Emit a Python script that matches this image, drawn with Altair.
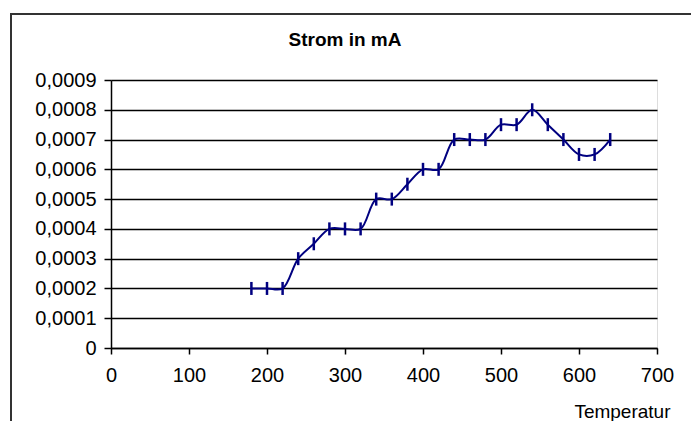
import altair as alt
import pandas as pd

temperatur = [180, 200, 220, 240, 260, 280, 300, 320, 340, 360, 380, 400,
              420, 440, 460, 480, 500, 520, 540, 560, 580, 600, 620, 640]
strom = [0.0002, 0.0002, 0.0002, 0.0003, 0.00035, 0.0004, 0.0004, 0.0004,
         0.0005, 0.0005, 0.00055, 0.0006, 0.0006, 0.0007, 0.0007, 0.0007,
         0.00075, 0.00075, 0.0008, 0.00075, 0.0007, 0.00065, 0.00065, 0.0007]
x_ticks = [0, 100, 200, 300, 400, 500, 600, 700]
y_ticks = [0, 0.0001, 0.0002, 0.0003, 0.0004, 0.0005, 0.0006, 0.0007, 0.0008, 0.0009]
chart_title = "Strom in mA"
x_title = "Temperatur"

df = pd.DataFrame({"Temperatur": temperatur, "Strom": strom})

FONT = "Liberation Sans"
NAVY = "#000080"
FS = 20

x_enc = alt.X(
    "Temperatur:Q",
    scale=alt.Scale(domain=[0, 700], nice=False),
    axis=alt.Axis(
        values=x_ticks, grid=False, title=x_title,
        labelFont=FONT, labelFontSize=FS, labelColor="#000", labelPadding=11,
        labelOverlap=False, labelFlush=False,
        tickSize=6, tickColor="#000", tickWidth=1.5, domainColor="#000", domainWidth=1.5,
        titleFont=FONT, titleFontSize=19, titleFontWeight="normal", titleColor="#000",
        titleAnchor="end", titleAlign="right", titleX=559, titleY=69,
        titleBaseline="alphabetic",
    ),
)
y_enc = alt.Y(
    "Strom:Q",
    scale=alt.Scale(domain=[0, 0.0009], nice=False),
    axis=alt.Axis(
        values=y_ticks, title=None,
        labelExpr="datum.value == 0 ? '0' : replace(format(datum.value, '.4f'), '.', ',')",
        labelFont=FONT, labelFontSize=FS, labelColor="#000", labelPadding=8,
        labelOverlap=False, labelBound=False, labelFlush=False,
        tickSize=7, tickColor="#000", tickWidth=1.5, domainColor="#000", domainWidth=1.5,
        grid=True, gridColor="#000", gridWidth=1.5, gridOpacity=1,
    ),
)

base = alt.Chart(df).encode(x=x_enc, y=y_enc)

line = base.mark_line(interpolate="catmull-rom", color=NAVY, strokeWidth=2)

points = base.mark_point(
    shape="M0,-1L0,1", size=169, filled=False, color=NAVY, strokeWidth=2.5, opacity=1
)

frame = alt.Chart(alt.Data(values=[{}])).mark_rect(
    fill=None, fillOpacity=0, stroke="#333", strokeWidth=2
).encode(
    x=alt.value(-100), y=alt.value(-66), x2=alt.value(600), y2=alt.value(400)
)

title = alt.Chart(alt.Data(values=[{"t": chart_title}])).mark_text(
    font=FONT, fontSize=19, fontWeight="bold", color="#000",
    align="center", baseline="alphabetic"
).encode(text="t:N", x=alt.value(234), y=alt.value(-34))

chart = alt.layer(line, points, frame, title).properties(
    width=546, height=268,
    autosize=alt.AutoSizeParams(type="none"),
    padding={"left": 111, "top": 80, "right": 34, "bottom": 73},
).configure_view(stroke="#000", strokeWidth=1.5).configure(background="white")

chart.save("out.html", embed_options={"renderer": "svg", "actions": False})
